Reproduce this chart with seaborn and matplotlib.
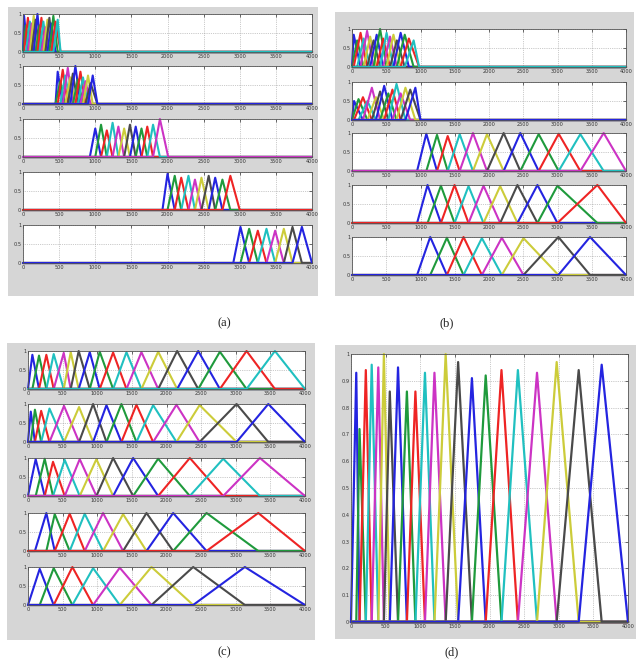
import matplotlib
matplotlib.use("Agg")
import matplotlib.pyplot as plt
from matplotlib.patches import Rectangle
import numpy as np
import pandas as pd
import seaborn as sns

# ---------------- data ----------------
X_MIN, X_MAX = 0, 4000
x_ticks = [0, 500, 1000, 1500, 2000, 2500, 3000, 3500, 4000]
small_y_ticks = [0, 0.5, 1]
small_y_labels = ["0", "0.5", "1"]
big_y_ticks = [0, 0.1, 0.2, 0.3, 0.4, 0.5, 0.6, 0.7, 0.8, 0.9, 1]
big_y_labels = ["0", "0.1", "0.2", "0.3", "0.4", "0.5", "0.6", "0.7", "0.8", "0.9", "1"]
panel_labels = ["(a)", "(b)", "(c)", "(d)"]

# MATLAB colour order
line_colors = ["#2424e0", "#1f9a3c", "#ee2424", "#20c0c0", "#cc33c4", "#cccc3a", "#4a4a4a"]

# panel (a)
a1_peaks = [15, 40, 68, 95, 120, 148, 175, 200, 228, 255, 282, 310, 338, 365, 392, 420, 450, 480]
a1_heights = [0.95, 0.7, 0.9, 0.8, 0.75, 0.95, 0.85, 1.0, 0.7, 0.9, 0.8, 0.65, 0.85, 0.9, 0.75, 0.95, 0.8, 0.85]
a1_span = [0, 520]
a2_peaks = [480, 515, 550, 585, 620, 655, 690, 725, 760, 795, 830, 865, 900, 935, 965]
a2_heights = [0.85, 0.6, 0.9, 0.75, 0.95, 0.7, 0.8, 1.0, 0.65, 0.85, 0.7, 0.6, 0.75, 0.55, 0.75]
a2_span = [450, 1030]
a3_peaks = [1000, 1080, 1160, 1240, 1320, 1400, 1480, 1560, 1640, 1720, 1800, 1895]
a3_heights = [0.75, 0.85, 0.7, 0.9, 0.8, 0.75, 0.85, 0.8, 0.75, 0.8, 0.85, 1.0]
a3_span = [925, 2010]
a4_peaks = [2000, 2100, 2190, 2290, 2380, 2470, 2570, 2660, 2760, 2870]
a4_heights = [0.95, 0.9, 0.85, 0.9, 0.8, 0.85, 0.9, 0.85, 0.8, 0.9]
a4_span = [1930, 3000]
a5_peaks = [3010, 3130, 3250, 3370, 3490, 3610, 3730, 3860]
a5_heights = [0.95, 0.9, 0.85, 0.9, 0.85, 0.9, 0.95, 0.95]
a5_span = [2910, 4000]
a_reach = [2, 2, 1, 1, 1]   # how many neighbouring peaks each triangle's feet reach

# panel (b)
b1_peaks = [25, 75, 125, 170, 220, 265, 315, 360, 410, 455, 505, 555, 605, 655, 710, 770, 830, 900]
b1_heights = [0.85, 0.7, 0.9, 0.75, 0.95, 0.8, 0.7, 0.85, 1.0, 0.75, 0.9, 0.8, 0.85, 0.7, 0.9, 0.85, 0.75, 0.7]
b1_span = [0, 980]
b2_peaks = [30, 95, 160, 225, 290, 350, 410, 470, 530, 590, 650, 710, 780, 850, 925]
b2_heights = [0.5, 0.55, 0.6, 0.5, 0.85, 0.6, 0.75, 0.9, 0.7, 0.8, 0.95, 0.7, 0.85, 0.8, 0.85]
b2_span = [0, 1000]
b3_peaks = [1085, 1241, 1397, 1572, 1766, 1971, 2214, 2457, 2725, 3017, 3333, 3674]
b3_heights = [0.98, 0.95, 0.92, 0.97, 1.0, 0.97, 1.0, 1.0, 0.97, 0.98, 0.97, 1.0]
b3_span = [950, 4000]
b4_peaks = [1103, 1298, 1497, 1701, 1920, 2163, 2415, 2707, 2999, 3582]
b4_heights = [1.0, 0.98, 1.0, 0.97, 0.98, 0.97, 1.0, 1.0, 0.98, 1.0]
b4_span = [950, 4000]
b5_peaks = [1142, 1385, 1628, 1896, 2187, 2503, 3013, 3475]
b5_heights = [1.0, 0.98, 1.0, 0.97, 0.98, 0.97, 1.0, 1.0]
b5_span = [950, 4000]
b_reach = [2, 2, 1, 1, 1]

# panel (c)
c1_peaks = [63, 159, 265, 371, 516, 617, 732, 892, 1036, 1229, 1422, 1638, 1880, 2154, 2458, 2771, 3156, 3566]
c1_heights = [0.9, 0.88, 0.9, 0.92, 0.95, 0.97, 1.0, 0.97, 0.98, 0.96, 0.97, 0.97, 0.98, 1.0, 1.0, 0.98, 1.0, 1.0]
c1_span = [0, 4000]
c2_peaks = [40, 100, 190, 310, 520, 737, 940, 1133, 1349, 1566, 1807, 2144, 2478, 3012, 3470]
c2_heights = [0.8, 0.85, 0.82, 0.88, 0.95, 0.92, 1.0, 0.97, 1.0, 0.98, 0.97, 0.98, 0.97, 1.0, 1.0]
c2_span = [0, 4000]
c3_peaks = [111, 241, 361, 530, 747, 988, 1229, 1518, 1879, 2337, 2819, 3349]
c3_heights = [0.97, 0.98, 0.9, 0.95, 0.97, 0.97, 1.0, 1.0, 0.98, 1.0, 0.98, 1.0]
c3_span = [0, 4000]
c4_peaks = [265, 386, 602, 819, 1084, 1373, 1711, 2096, 2578, 3325]
c4_heights = [1.0, 0.97, 0.98, 0.98, 1.0, 0.97, 1.0, 1.0, 1.0, 1.0]
c4_span = [100, 4000]
c5_peaks = [169, 371, 641, 940, 1325, 1783, 2385, 3132]
c5_heights = [0.95, 0.97, 1.0, 0.97, 0.98, 1.0, 1.0, 1.0]
c5_span = [0, 4000]
c_reach = [1, 1, 1, 1, 1]

# panel (d)
d_peaks = [76, 123, 214, 299, 394, 475, 560, 679, 807, 930, 1068, 1205, 1367, 1547,
           1746, 1945, 2173, 2410, 2686, 2970, 3288, 3620]
d_heights = [0.93, 0.72, 0.94, 0.96, 0.95, 1.0, 0.86, 0.95, 0.86, 0.86, 0.93, 0.93,
             1.0, 0.97, 0.91, 0.92, 0.94, 0.94, 0.93, 0.97, 0.94, 0.96]
d_span = [0, 4000]
d_reach = 1

panel_a = [(a1_peaks, a1_heights, a1_span), (a2_peaks, a2_heights, a2_span),
           (a3_peaks, a3_heights, a3_span), (a4_peaks, a4_heights, a4_span),
           (a5_peaks, a5_heights, a5_span)]
panel_b = [(b1_peaks, b1_heights, b1_span), (b2_peaks, b2_heights, b2_span),
           (b3_peaks, b3_heights, b3_span), (b4_peaks, b4_heights, b4_span),
           (b5_peaks, b5_heights, b5_span)]
panel_c = [(c1_peaks, c1_heights, c1_span), (c2_peaks, c2_heights, c2_span),
           (c3_peaks, c3_heights, c3_span), (c4_peaks, c4_heights, c4_span),
           (c5_peaks, c5_heights, c5_span)]

# ---------------- drawing ----------------
sns.set_style("white")
plt.rcParams["font.family"] = ["DejaVu Sans"]

W, H = 636, 665
fig = plt.figure(figsize=(W / 100, H / 100), dpi=100)
fig.patch.set_facecolor("white")


def px_axes(x0, y0, x1, y1):
    return fig.add_axes([x0 / W, 1 - y1 / H, (x1 - x0) / W, (y1 - y0) / H])


def gray_box(x0, y0, x1, y1):
    fig.patches.append(Rectangle((x0 / W, 1 - y1 / H), (x1 - x0) / W, (y1 - y0) / H,
                                 transform=fig.transFigure, facecolor="#d6d6d6",
                                 edgecolor="none", zorder=-10))


def draw_mfs(ax, peaks, heights, span, reach, yticks, ylabels, lw=1.5):
    n = len(peaks)
    recs = []
    names = []
    for i in range(n):
        left = span[0] if i - reach < 0 else peaks[i - reach]
        right = span[1] if i + reach > n - 1 else peaks[i + reach]
        name = f"mf{i:02d}"
        names.append(name)
        for xv, yv in zip([X_MIN, left, peaks[i], right, X_MAX], [0, 0, heights[i], 0, 0]):
            recs.append({"x": xv, "y": yv, "mf": name})
    df = pd.DataFrame(recs)
    pal = {nm: line_colors[i % len(line_colors)] for i, nm in enumerate(names)}
    sns.lineplot(data=df, x="x", y="y", hue="mf", hue_order=names, palette=pal,
                 estimator=None, sort=False, legend=False, lw=lw, ax=ax)
    for ln in ax.lines:
        ln.set_clip_on(False)
        ln.set_solid_joinstyle("round")
    ax.set_xlim(X_MIN, X_MAX)
    ax.set_ylim(0, 1)
    ax.set_xticks(x_ticks)
    ax.set_xticklabels([str(t) for t in x_ticks])
    ax.set_yticks(yticks)
    ax.set_yticklabels(ylabels)
    ax.set_xlabel("")
    ax.set_ylabel("")
    ax.set_facecolor("white")
    ax.grid(True, linestyle=":", color="#9a9a9a", lw=0.5)
    ax.set_axisbelow(True)
    ax.tick_params(direction="in", length=2, width=0.5, labelsize=3.6, pad=1.2,
                   colors="#333333", top=True, right=True)
    for sp in ax.spines.values():
        sp.set_color("#555555")
        sp.set_linewidth(0.6)


# panel (a)
gray_box(8, 7, 318, 296)
for k, (pk, ht, sp) in enumerate(panel_a):
    top = [14, 66, 119, 172, 225][k]
    ax = px_axes(23, top, 312, top + 38)
    draw_mfs(ax, pk, ht, sp, a_reach[k], small_y_ticks, small_y_labels)

# panel (b)
gray_box(335, 12, 634, 296)
for k, (pk, ht, sp) in enumerate(panel_b):
    top = [29, 82, 133, 185, 237][k]
    ax = px_axes(352, top, 626, top + 38)
    draw_mfs(ax, pk, ht, sp, b_reach[k], small_y_ticks, small_y_labels)

# panel (c)
gray_box(7, 343, 315, 640)
for k, (pk, ht, sp) in enumerate(panel_c):
    top = [351, 404, 458, 513, 567][k]
    ax = px_axes(28, top, 305, top + 38)
    draw_mfs(ax, pk, ht, sp, c_reach[k], small_y_ticks, small_y_labels)

# panel (d)
gray_box(335, 345, 636, 639)
ax = px_axes(351, 354, 628, 622)
draw_mfs(ax, d_peaks, d_heights, d_span, d_reach, big_y_ticks, big_y_labels, lw=1.6)

# panel labels
for lab, (lx, ly) in zip(panel_labels, [(224, 323), (447, 323), (224, 652), (452, 652)]):
    fig.text(lx / W, 1 - ly / H, lab, ha="center", va="center", fontsize=9,
             family=["Liberation Serif", "DejaVu Serif"], color="#222222")

fig.savefig("out.png", dpi=100, facecolor="white")
